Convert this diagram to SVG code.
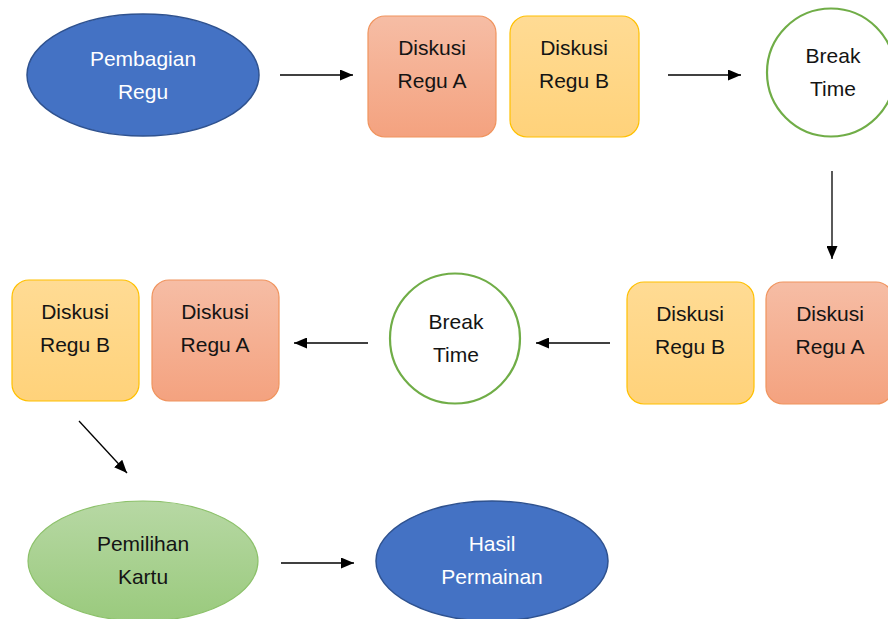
<svg xmlns="http://www.w3.org/2000/svg" width="888" height="619" viewBox="0 0 888 619">
<style>
text{font-family:"Liberation Sans",Arial,sans-serif;font-size:21px;text-anchor:middle;fill:#141414}
.w{fill:#ffffff}
.blue{fill:#4472C4;stroke:#2F528F;stroke-width:1.5}
.ora{fill:url(#gO);stroke:#F0945E;stroke-width:1.2}
.yel{fill:url(#gY);stroke:#FFC000;stroke-width:1.2}
.brk{fill:#ffffff;stroke:#70AD47;stroke-width:2.2}
.grn{fill:url(#gG);stroke:#8CC16A;stroke-width:1.2}
.c line{stroke:#000;stroke-width:1.3;marker-end:url(#ah)}
</style>
<defs>
<linearGradient id="gO" x1="0" y1="0" x2="0" y2="1"><stop offset="0" stop-color="#F6BDA5"/><stop offset="1" stop-color="#F4A27F"/></linearGradient>
<linearGradient id="gY" x1="0" y1="0" x2="0" y2="1"><stop offset="0" stop-color="#FFDB94"/><stop offset="1" stop-color="#FFD27A"/></linearGradient>
<linearGradient id="gG" x1="0" y1="0" x2="0" y2="1"><stop offset="0" stop-color="#B7D8A4"/><stop offset="1" stop-color="#9ACA7D"/></linearGradient>
<marker id="ah" viewBox="0 0 13 11" refX="13" refY="5.5" markerWidth="13" markerHeight="11" markerUnits="userSpaceOnUse" orient="auto"><path d="M0,0 L13,5.5 L0,11 Z" fill="#000"/></marker>
</defs>
<rect width="888" height="619" fill="#ffffff"/>
<g class="c" id="connectors">
<line x1="280" y1="75" x2="353" y2="75"/>
<line x1="668" y1="75" x2="741" y2="75"/>
<line x1="832" y1="171" x2="832" y2="259"/>
<line x1="610" y1="343" x2="536" y2="343"/>
<line x1="368" y1="343" x2="294" y2="343"/>
<line x1="79" y1="421" x2="127" y2="473"/>
<line x1="281" y1="563" x2="354" y2="563"/>
</g>
<g id="pembagian"><ellipse class="blue" cx="143" cy="75" rx="116" ry="61"/><text class="w" x="143" y="66">Pembagian</text><text class="w" x="143" y="99">Regu</text></g>
<g id="a1"><rect class="ora" x="368" y="16" width="128" height="121" rx="17"/><text x="432" y="55">Diskusi</text><text x="432" y="88">Regu A</text></g>
<g id="b1"><rect class="yel" x="510" y="16" width="129" height="121" rx="17"/><text x="574" y="55">Diskusi</text><text x="574" y="88">Regu B</text></g>
<g id="break1"><circle class="brk" cx="831" cy="72.5" r="64"/><text x="833" y="63">Break</text><text x="833" y="96">Time</text></g>
<g id="b2"><rect class="yel" x="627" y="282" width="127" height="122" rx="17"/><text x="690" y="321">Diskusi</text><text x="690" y="354">Regu B</text></g>
<g id="a2"><rect class="ora" x="766" y="282" width="127" height="122" rx="17"/><text x="830" y="321">Diskusi</text><text x="830" y="354">Regu A</text></g>
<g id="break2"><circle class="brk" cx="455" cy="338.5" r="65"/><text x="456" y="329">Break</text><text x="456" y="362">Time</text></g>
<g id="a3"><rect class="ora" x="152" y="280" width="127" height="121" rx="17"/><text x="215" y="319">Diskusi</text><text x="215" y="352">Regu A</text></g>
<g id="b3"><rect class="yel" x="12" y="280" width="127" height="121" rx="17"/><text x="75" y="319">Diskusi</text><text x="75" y="352">Regu B</text></g>
<g id="pemilihan"><ellipse class="grn" cx="143" cy="561" rx="115" ry="60"/><text x="143" y="551">Pemilihan</text><text x="143" y="584">Kartu</text></g>
<g id="hasil"><ellipse class="blue" cx="492" cy="561" rx="116" ry="60"/><text class="w" x="492" y="551">Hasil</text><text class="w" x="492" y="584">Permainan</text></g>
</svg>
